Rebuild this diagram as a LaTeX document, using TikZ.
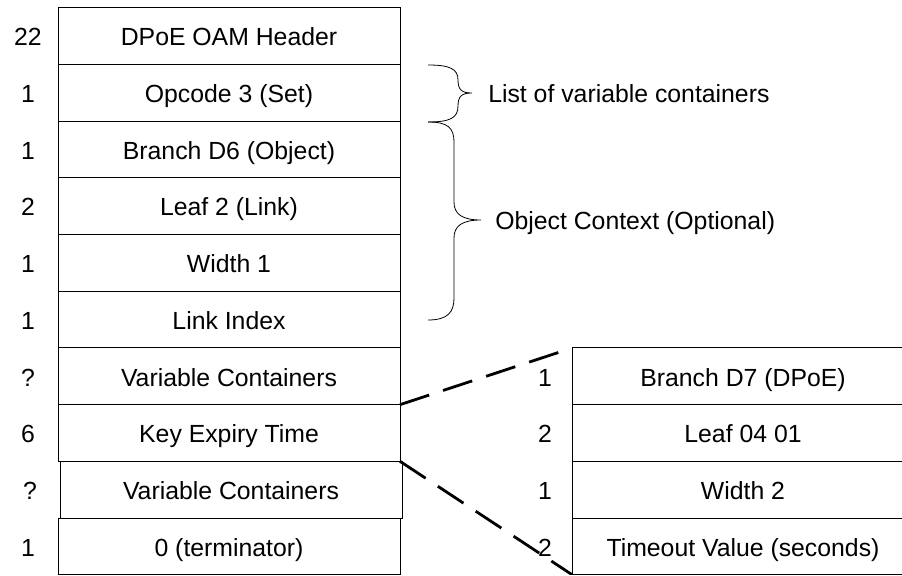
\documentclass[tikz,border=0pt]{standalone}
\usepackage{fontspec}
\setmainfont{Liberation Sans}
\usetikzlibrary{positioning}

\begin{document}
\begin{tikzpicture}[
  x=0.75pt, y=0.75pt,
  every node/.style={font=\fontsize{18.6}{22}\selectfont},
  node distance=0pt
]
\tikzset{
  field/.style={draw, line width=0.75pt, minimum width=256.5pt, minimum height=42.5pt,
    inner sep=0pt, outer sep=0pt, text height=14.5pt, text depth=0pt},
  len/.style={inner sep=0pt, text height=14.5pt, text depth=0pt},
  note/.style={anchor=west, inner sep=0pt, text height=14.5pt, text depth=0pt},
  curly/.style={line width=0.6pt},
  dashline/.style={line width=2.1pt, dash pattern=on 23pt off 11pt}
}
\useasboundingbox (0,0) rectangle (902,575);
\clip (0,1) rectangle (902,575);

% left stack
\node[field, anchor=north west] (hdr) at (58,567) {DPoE OAM Header};
\node[field, below=of hdr] (op) {Opcode 3 (Set)};
\node[field, below=of op] (br6) {Branch D6 (Object)};
\node[field, below=of br6] (leaf) {Leaf 2 (Link)};
\node[field, below=of leaf] (wid) {Width 1};
\node[field, below=of wid] (idx) {Link Index};
\node[field, below=of idx] (vc) {Variable Containers};
\node[field, below=of vc] (key) {Key Expiry Time};
\node[field, below=of key, xshift=1.5pt] (vc2) {Variable Containers};
\node[field, below=of vc2, xshift=-1.5pt] (term) {0 (terminator)};

\node[len] (n1) at ([xshift=-22.5pt]hdr.west) {22};
\node[len] (n2) at ([xshift=-22.5pt]op.west) {1};
\node[len] (n3) at ([xshift=-22.5pt]br6.west) {1};
\node[len] (n4) at ([xshift=-22.5pt]leaf.west) {2};
\node[len] (n5) at ([xshift=-22.5pt]wid.west) {1};
\node[len] (n6) at ([xshift=-22.5pt]idx.west) {1};
\node[len] (n7) at ([xshift=-22.5pt]vc.west) {?};
\node[len] (n8) at ([xshift=-22.5pt]key.west) {6};
\node[len] (n9) at ([xshift=-22.5pt]vc2.west) {?};
\node[len] (n10) at ([xshift=-22.5pt]term.west) {1};

% right stack
\node[field, right=129pt of vc] (br7) {Branch D7 (DPoE)};
\node[field, below=of br7] (leaf4) {Leaf 04 01};
\node[field, below=of leaf4] (wid2) {Width 2};
\node[field, below=of wid2] (tmo) {Timeout Value (seconds)};

\node[len] (m1) at ([xshift=-20.25pt]br7.west) {1};
\node[len] (m2) at ([xshift=-20.25pt]leaf4.west) {2};
\node[len] (m3) at ([xshift=-20.25pt]wid2.west) {1};
\node[len] (m4) at ([xshift=-20.25pt]tmo.west) {2};

\draw[dashline] (key.north east) -- (br7.north west);
\draw[dashline] (key.south east) -- (tmo.south west);

% braces
\coordinate (tip1) at (472,482);
\coordinate (tip2) at (481,355);
\draw[curly] (428,510) .. controls (450,510) and (458,506) .. (458,495)
  .. controls (458,485) and (462,482) .. (tip1)
  .. controls (462,482) and (458,479) .. (458,469)
  .. controls (458,457) and (450,453) .. (428,453);
\draw[curly] (428,453) .. controls (448,453) and (454,447) .. (454,433) -- (454,373)
  .. controls (454,361) and (462,355) .. (tip2)
  .. controls (462,355) and (454,349) .. (454,337) -- (454,277)
  .. controls (454,263) and (448,255) .. (428,255);
\node[note] (lbl1) at ([xshift=12pt]tip1) {List of variable containers};
\node[note] (lbl2) at ([xshift=10.5pt]tip2) {Object Context (Optional)};
\end{tikzpicture}
\end{document}
